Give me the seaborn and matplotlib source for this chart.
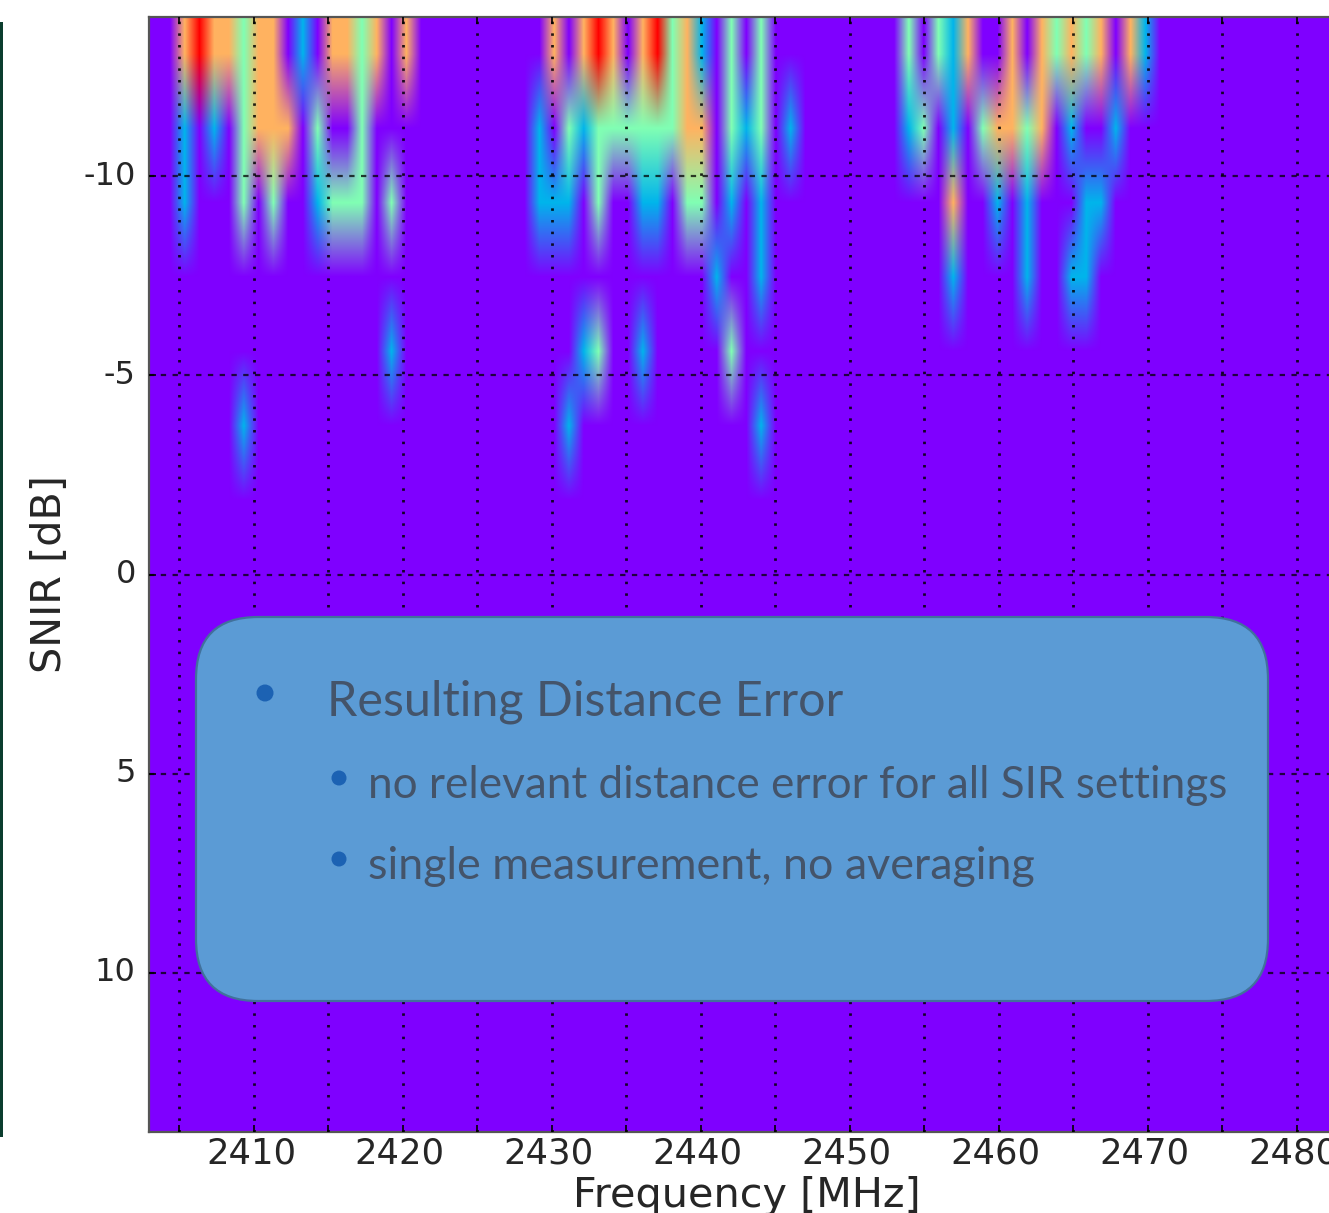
import numpy as np
import pandas as pd
import matplotlib
matplotlib.use("Agg")
import matplotlib.pyplot as plt
import seaborn as sns
from matplotlib.patches import FancyBboxPatch, Circle, Rectangle
from matplotlib.transforms import Affine2D, ScaledTranslation

# values per 1 MHz bin, one list for each SNIR row that has any response
row_m13 = [0,0,3,4,3,3,2,3,3,0, 1,0,3,3,2,3,0,3,0,0, 0,0,0,0,0,0,0,3,0,3,
           4,3,0,3,4,2,3,1,0,2, 0,2,0,0,0,0,0,0,0,0, 0,2,0,2,1,3,0,0,3,0,
           3,2,3,2,3,0,3,1,0,0, 0,0,0,0,0,0,0,0,0,0, 0]
row_m11 = [0,0,1,0,1,0,2,3,3,3, 0,2,0,0,2,0,0,0,0,0, 0,0,0,0,0,0,1,0,2,1,
           2,2,2,2,2,2,3,3,0,2, 1,2,0,1,0,0,0,0,0,0, 0,1,2,0,1,0,2,3,3,2,
           3,0,1,0,0,1,0,0,0,0, 0,0,0,0,0,0,0,0,0,0, 0]
row_m9  = [0,0,1,0,0,0,2,0,2,0, 0,1,2,2,2,0,2,0,0,0, 0,0,0,0,0,0,1,1,1,0,
           2,0,0,1,1,0,2,2,0,1, 0,1,0,0,0,0,0,0,0,0, 0,0,0,0,3,0,0,1,0,1,
           0,0,0,1,1,0,0,0,0,0, 0,0,0,0,0,0,0,0,0,0, 0]
row_m7  = [0,0,0,0,0,0,0,0,0,0, 0,0,0,0,0,0,0,0,0,0, 0,0,0,0,0,0,0,0,0,0,
           0,0,0,0,0,0,0,0,1,0, 0,1,0,0,0,0,0,0,0,0, 0,0,0,0,1,0,0,0,0,1,
           0,0,1,1,0,0,0,0,0,0, 0,0,0,0,0,0,0,0,0,0, 0]
row_m6  = [0,0,0,0,0,0,0,0,0,0, 0,0,0,0,0,0,1,0,0,0, 0,0,0,0,0,0,0,0,0,1,
           2,0,0,1,0,0,0,0,0,2, 0,0,0,0,0,0,0,0,0,0, 0,0,0,0,0,0,0,0,0,0,
           0,0,0,0,0,0,0,0,0,0, 0,0,0,0,0,0,0,0,0,0, 0]
row_m4  = [0,0,0,0,0,0,1,0,0,0, 0,0,0,0,0,0,0,0,0,0, 0,0,0,0,0,0,0,0,1,0,
           0,0,0,0,0,0,0,0,0,0, 0,1,0,0,0,0,0,0,0,0, 0,0,0,0,0,0,0,0,0,0,
           0,0,0,0,0,0,0,0,0,0, 0,0,0,0,0,0,0,0,0,0, 0]
quiet_rows = 9

x_major = [2410, 2420, 2430, 2440, 2450, 2460, 2470, 2480]
x_minor = [2405, 2415, 2425, 2435, 2445, 2455, 2465, 2475]
y_ticks = [-10, -5, 0, 5, 10]

title_line = "Resulting Distance Error"
sub_lines = ["no relevant distance error for all SIR settings",
             "single measurement, no averaging"]

W, H = 1329, 1213
sns.set_theme(style="white")
plt.rcParams["font.family"] = ["DejaVu Sans"]

table = pd.DataFrame([row_m13, row_m11, row_m9, row_m7, row_m6, row_m4]
                     + [[0] * len(row_m13)] * quiet_rows)
n_rows, n_cols = table.shape

fig = plt.figure(figsize=(W / 100, H / 100), dpi=100, facecolor="white")
ax = fig.add_axes([149 / W, 1 - 1132 / H, (1345 - 149) / W, (1132 - 17) / H])

sns.heatmap(table, cmap="rainbow", vmin=0, vmax=4, cbar=False, ax=ax)
ax.imshow(table.values, cmap="rainbow", vmin=0, vmax=4, aspect="auto",
          interpolation="bilinear", interpolation_stage="rgba",
          extent=(0, n_cols, n_rows, 0), zorder=1.5)
ax.set_xlim(0.08, 81.0)
ax.set_ylim(n_rows, 0)


def col_of(f):
    return 7.18 + (np.asarray(f) - 2410) * 1.0081


def row_of(s):
    return (np.asarray(s) + 14) / 28 * n_rows


ax.set_xticks(col_of(x_major))
ax.set_xticklabels([str(v) for v in x_major], rotation=0)
ax.set_xticks(col_of(x_minor), minor=True)
ax.set_yticks(row_of(y_ticks))
ax.set_yticklabels([str(v) for v in y_ticks], rotation=0)

ax.set_axisbelow(False)
ax.grid(True, which="both", axis="x", color="black", lw=2.0, ls=(0, (0.9, 3.3)), alpha=0.85)
ax.grid(True, which="major", axis="y", color="black", lw=1.6, ls=(0, (2.4, 2.9)), alpha=0.75)
ax.tick_params(axis="x", which="major", labelsize=25.5, labelcolor="#262626",
               direction="in", length=5, width=1.2, color="black",
               top=True, bottom=True, pad=3)
ax.tick_params(axis="y", which="major", labelsize=23, labelcolor="#262626",
               direction="in", length=5, width=1.2, color="black",
               left=True, right=True, pad=9.5)
ax.tick_params(axis="x", which="minor", direction="in", length=5, width=1.2,
               color="black", top=True, bottom=True)
shift = ScaledTranslation(-3 / 100, 0, fig.dpi_scale_trans)
for lab in ax.get_xticklabels():
    lab.set_transform(lab.get_transform() + shift)
for s in ax.spines.values():
    s.set_visible(True)
    s.set_color("#555555")
    s.set_linewidth(1.6)
ax.set_xlabel("Frequency [MHz]", fontsize=29.8, color="#262626", labelpad=4.5)
ax.set_ylabel("SNIR [dB]", fontsize=29.8, color="#262626", labelpad=10)

px = Affine2D().scale(1, -1).translate(0, H)
fig.add_artist(Rectangle((0, 22), 2.5, 1115, transform=px, facecolor="#0B3D2E",
                         edgecolor="none", zorder=4))
fig.add_artist(FancyBboxPatch((196 + 62, 617 + 62), 1072 - 124, 384 - 124,
                              boxstyle="round,pad=62,rounding_size=62",
                              transform=px, facecolor="#5B9BD5",
                              edgecolor="#41719C", lw=1.6, zorder=5))
for cx, cy, r in [(265, 693, 8.5), (339, 778, 7.5), (339, 859, 7.5)]:
    fig.add_artist(Circle((cx, cy), r, transform=px, facecolor="#1C62B3",
                          edgecolor="none", zorder=6))

txt = dict(family="Lato", color="#44546A", zorder=7, ha="left", va="baseline")
fig.text(327 / W, 1 - 716 / H, title_line, fontsize=34.9, **txt)
fig.text(368 / W, 1 - 798 / H, sub_lines[0], fontsize=31.8, **txt)
fig.text(368 / W, 1 - 879 / H, sub_lines[1], fontsize=32.3, **txt)

fig.savefig("out.png", dpi=100, facecolor="white")
